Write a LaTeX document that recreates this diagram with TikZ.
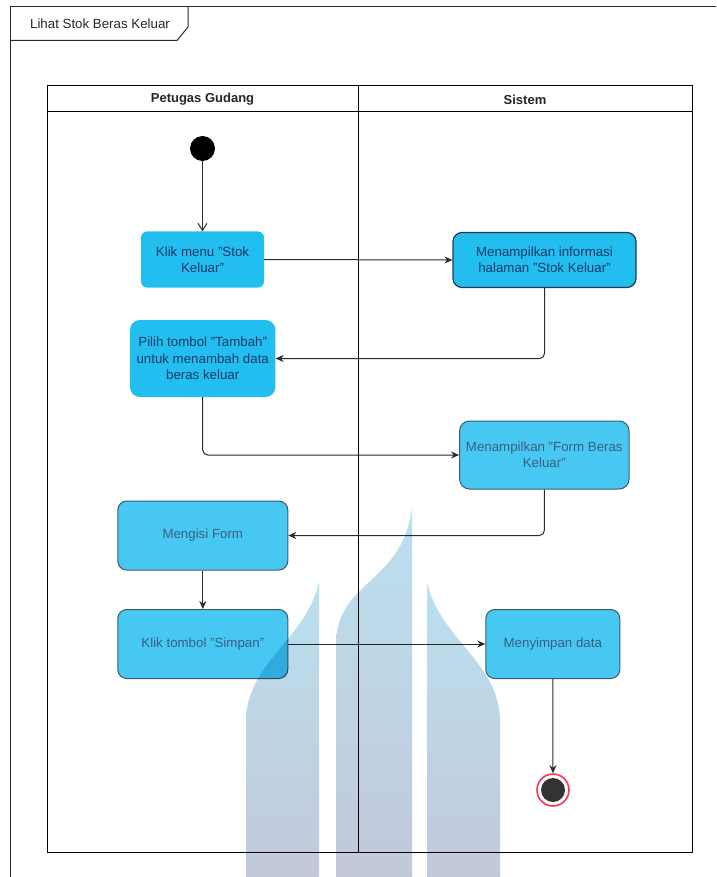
\documentclass[tikz,border=0pt]{standalone}
\usepackage{fontspec}
\setmainfont{Liberation Sans}
\usetikzlibrary{arrows.meta}

\definecolor{framec}{HTML}{2A2A2A}
\definecolor{actfill}{HTML}{22BEF0}
\definecolor{actfilltwo}{HTML}{46C8F2}
\definecolor{acttext}{HTML}{163A6A}
\definecolor{acttexttwo}{HTML}{3C5E84}
\definecolor{actline}{HTML}{1E3C50}
\definecolor{actlinetwo}{HTML}{3E5A6C}
\definecolor{flowline}{HTML}{2B2B2B}
\definecolor{endred}{HTML}{FF3358}
\definecolor{enddark}{HTML}{333333}
\definecolor{wmtop}{RGB}{186,224,239}
\definecolor{wmbot}{RGB}{194,200,218}

\tikzset{
  lane/.style={draw=black, line width=1pt},
  act/.style={rectangle, rounded corners=8pt, fill=actfill, text=acttext,
    align=center, inner sep=0pt, font=\fontsize{13.3}{16.3}\selectfont},
  actb/.style={act, draw=actlinetwo, line width=1pt, fill=actfilltwo, text=acttexttwo},
  flow/.style={draw=flowline, line width=1pt, -{Stealth[length=8pt,width=7pt]}},
  flowopen/.style={draw=flowline, line width=1pt, -{Straight Barb[length=7pt,width=9pt]}},
  lanehead/.style={font=\fontsize{13}{15}\selectfont\bfseries, text=black!85},
}

\begin{document}
\begin{tikzpicture}[x=1pt,y=-1pt]
\useasboundingbox (0,0) rectangle (716,877);
\fill[white] (0,0) rectangle (716,877);

% outer frame with its title tab
\begin{scope}
  \clip (0,0) rectangle (716,877);
  \draw[draw=framec, line width=1pt] (10,890) -- (10,7) -- (730,7);
  \draw[draw=framec, line width=1pt] (10,40.5) -- (177,40.5) -- (188,27) -- (188,7);
\end{scope}
\node[font=\fontsize{13.3}{15}\selectfont, text=black!85] (title) at (100,24) {Lihat Stok Beras Keluar};

% swimlanes
\draw[lane] (47,86) rectangle (692,852);
\draw[lane] (47,112) -- (692,112);
\draw[lane] (358,86) -- (358,852);
\node[lanehead] (laneuser) at (202.5,99.5) {Petugas Gudang};
\node[lanehead] (lanesys) at (525,99.5) {Sistem};

% start and end
\node[circle, fill=black, minimum size=25pt, inner sep=0pt] (start) at (202.5,148.5) {};
\node[circle, draw=endred, line width=1.6pt, fill=white, minimum size=32pt, inner sep=0pt] (end) at (553,790) {};
\node[circle, fill=enddark, minimum size=24pt, inner sep=0pt] (endcore) at (end.center) {};

% activities
\node[act, rounded corners=6pt, minimum width=123pt, minimum height=56pt] (klik) at (202.5,259.5)
  {Klik menu "Stok\\Keluar"};
\node[act, draw=actline, line width=1.2pt, rounded corners=9pt, minimum width=183pt, minimum height=55pt] (info) at (544.5,260)
  {Menampilkan informasi\\halaman "Stok Keluar"};
\node[act, rounded corners=10pt, minimum width=145.5pt, minimum height=77pt] (pilih) at (202.7,358.5)
  {Pilih tombol "Tambah"\\untuk menambah data\\beras keluar};
\node[actb, rounded corners=10pt, minimum width=169.5pt, minimum height=68pt] (form) at (544.3,455)
  {Menampilkan "Form Beras\\Keluar"};
\node[actb, rounded corners=9pt, minimum width=170pt, minimum height=69pt] (isi) at (202.8,535.5)
  {Mengisi Form};
\node[actb, rounded corners=9pt, minimum width=170pt, minimum height=69pt] (simpan) at (202.8,644)
  {Klik tombol "Simpan"};
\node[actb, rounded corners=9pt, minimum width=134pt, minimum height=69pt] (data) at (552.8,644)
  {Menyimpan data};

% control flow
\draw[flowopen] (start) -- (klik);
\draw[flow] (klik.east) -- (info.west);
\draw[flow, rounded corners=5pt] (info.south) |- (pilih.east);
\draw[flow, rounded corners=5pt] (pilih.south) |- (form.west);
\draw[flow, rounded corners=5pt] (form.south) |- (isi.east);
\draw[flow] (isi) -- (simpan);
\draw[flow] (simpan.east) -- (data.west);
\draw[flow] (data) -- (end);

% three-pillar emblem laid over the page
\begin{scope}[blend mode=multiply]
  \shade[top color=wmtop, bottom color=wmbot]
    (319,582) .. controls (306,640) and (246,662) .. (246,722) -- (246,880) -- (319,880) -- cycle;
  \shade[top color=wmtop, bottom color=wmbot]
    (412,508) .. controls (402,585) and (336,580) .. (336,645) -- (336,880) -- (412,880) -- cycle;
  \shade[top color=wmtop, bottom color=wmbot]
    (427,582) .. controls (440,640) and (500,662) .. (500,722) -- (500,880) -- (427,880) -- cycle;
\end{scope}
\end{tikzpicture}
\end{document}
